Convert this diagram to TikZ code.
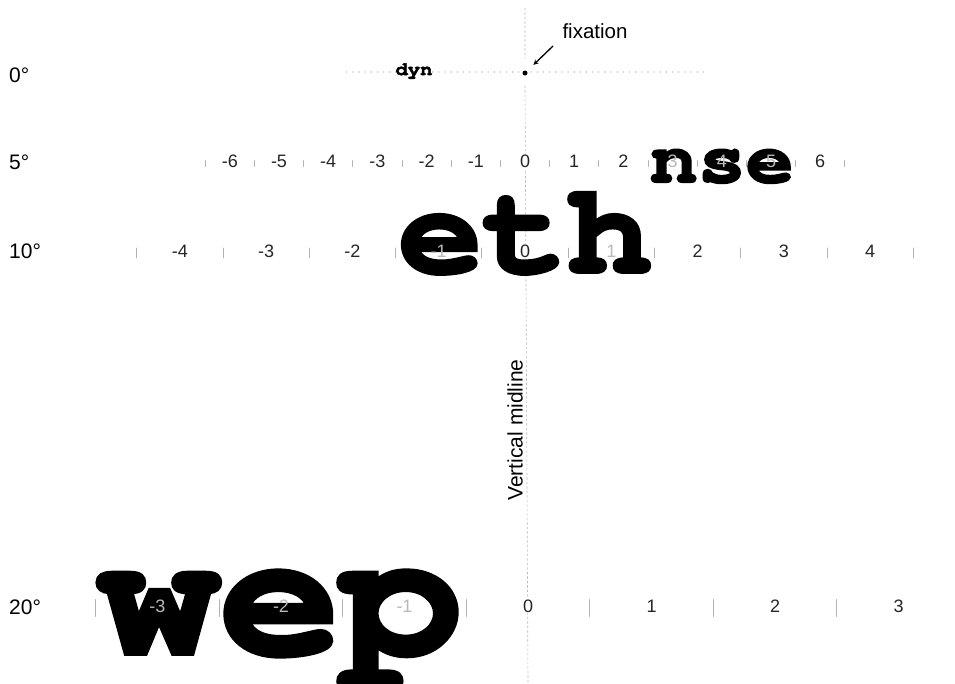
\documentclass[tikz,border=0pt]{standalone}
\usepackage{fontspec}
\setmainfont{Liberation Sans}
\newfontfamily\typefont[FakeBold=3,FakeStretch=1.11]{texgyrecursor-bold.otf}
\begin{document}
\begin{tikzpicture}[x=1pt,y=-1pt,>=stealth,line cap=round,
	every node/.style={font=\fontsize{18}{18}\selectfont},
	rowlabel/.style={anchor=base west,inner sep=0pt,font=\fontsize{21}{21}\selectfont},
	tickmark/.style={gray!60,line width=0.8pt},
	num/.style={text=black!85,fill=white,inner sep=1pt},
	numover/.style={text=gray!55,inner sep=0pt},
	word/.style={anchor=base,inner sep=0pt,text=black}]
	\useasboundingbox (0,0) rectangle (955,683);
	\draw[gray!55,line width=0.6pt,dash pattern=on 2pt off 2.5pt] (525,8) -- (525,58) (525,86) -- (528,683);
	\foreach \y/\p/\n/\h/\cx in {161.5/49.2/6/3/525, 251/86.3/4/5/525, 606/123.5/3/8.5/528}{
		\pgfmathtruncatemacro\m{-\n-1}
		\foreach \k in {\m,...,\n}
			\draw[tickmark] (\cx+\k*\p+\p/2,\y+2-\h) -- ++(0,2*\h);
	}
	\foreach \k in {-29,...,29}
		\fill[gray!50] (525+\k*6.15,72) circle (0.8pt);
	\node[word,fill=white,font=\typefont\fontsize{18.5}{18}\selectfont] (dyn) at (414,75) {dyn};
	\node[word,font=\typefont\fontsize{72}{72}\selectfont] (nse) at (721.8,182) {nse};
	\node[word,font=\typefont\fontsize{127}{127}\selectfont] (eth) at (525,272) {eth};
	\node[word,font=\typefont\fontsize{182}{182}\selectfont] (wep) at (280,653) {wep};
	\foreach \k/\st in {-6/num,-5/num,-4/num,-3/num,-2/num,-1/num,0/num,1/num,2/num,3/numover,4/numover,5/numover,6/num}
		\node[\st] (r5n\k) at (525+\k*49.2,161.5) {\k};
	\foreach \k/\st in {-4/num,-3/num,-2/num,-1/numover,0/num,1/numover,2/num,3/num,4/num}
		\node[\st] (r10n\k) at (525+\k*86.3,251) {\k};
	\foreach \k/\st in {-3/numover,-2/numover,-1/numover,0/num,1/num,2/num,3/num}
		\node[\st] (r20n\k) at (528+\k*123.5,606) {\k};
	\foreach \y/\deg in {82/0,169/5,258/10,614/20}
		\node[rowlabel] (row\deg) at (9,\y) {\deg°};
	\node[circle,fill=black,inner sep=0pt,minimum size=5pt] (fixdot) at (525,73) {};
	\node[anchor=base,font=\fontsize{20.5}{20}\selectfont] (fixlbl) at (595,38) {fixation};
	\coordinate (fixtail) at (553,46);
	\draw[->,line width=1.3pt,shorten >=9pt] (fixtail) -- (fixdot);
	\node[rotate=90,font=\fontsize{21}{21}\selectfont] (midlbl) at (515,430) {Vertical midline};
\end{tikzpicture}
\end{document}
